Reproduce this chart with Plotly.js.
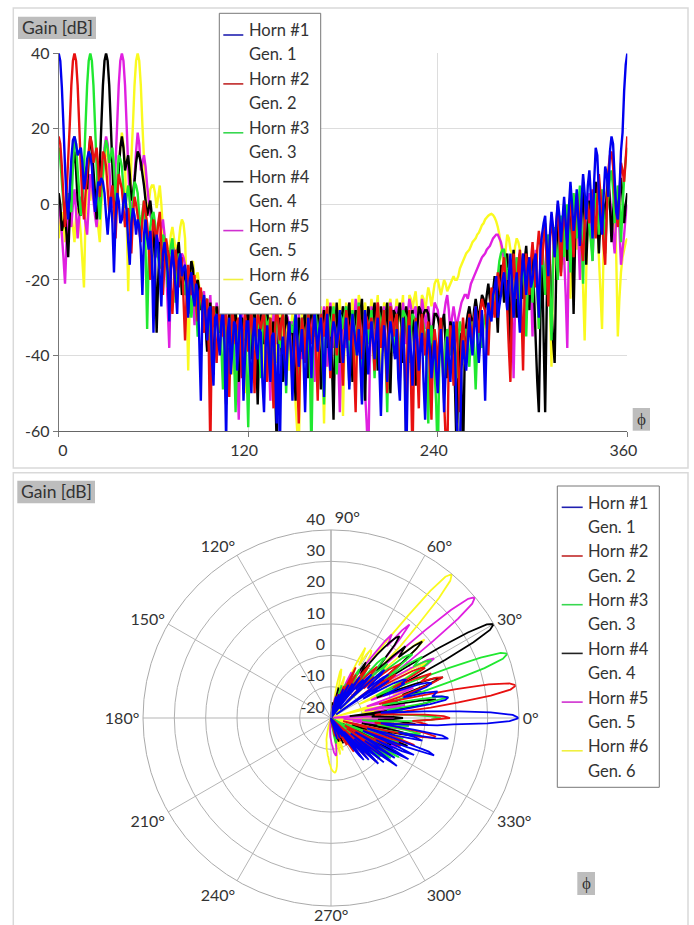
<!DOCTYPE html>
<html>
<head>
<meta charset="utf-8">
<script src="https://cdn.plot.ly/plotly-3.0.1.min.js"></script>
<style>html,body{margin:0;padding:0;background:#fff;overflow:hidden}#chart{width:694px;height:925px}</style>
</head>
<body>
<div id="chart"></div>
<script>
const phiDeg = [
0,1,2,3,4,5,6,7,8,9,10,11,12,13,14,15,16,17,18,19,
20,21,22,23,24,25,26,27,28,29,30,31,32,33,34,35,36,37,38,39,
40,41,42,43,44,45,46,47,48,49,50,51,52,53,54,55,56,57,58,59,
60,61,62,63,64,65,66,67,68,69,70,71,72,73,74,75,76,77,78,79,
80,81,82,83,84,85,86,87,88,89,90,91,92,93,94,95,96,97,98,99,
100,101,102,103,104,105,106,107,108,109,110,111,112,113,114,115,116,117,118,119,
120,121,122,123,124,125,126,127,128,129,130,131,132,133,134,135,136,137,138,139,
140,141,142,143,144,145,146,147,148,149,150,151,152,153,154,155,156,157,158,159,
160,161,162,163,164,165,166,167,168,169,170,171,172,173,174,175,176,177,178,179,
180,181,182,183,184,185,186,187,188,189,190,191,192,193,194,195,196,197,198,199,
200,201,202,203,204,205,206,207,208,209,210,211,212,213,214,215,216,217,218,219,
220,221,222,223,224,225,226,227,228,229,230,231,232,233,234,235,236,237,238,239,
240,241,242,243,244,245,246,247,248,249,250,251,252,253,254,255,256,257,258,259,
260,261,262,263,264,265,266,267,268,269,270,271,272,273,274,275,276,277,278,279,
280,281,282,283,284,285,286,287,288,289,290,291,292,293,294,295,296,297,298,299,
300,301,302,303,304,305,306,307,308,309,310,311,312,313,314,315,316,317,318,319,
320,321,322,323,324,325,326,327,328,329,330,331,332,333,334,335,336,337,338,339,
340,341,342,343,344,345,346,347,348,349,350,351,352,353,354,355,356,357,358,359,
360];

const gain1 = [
40,38,31,21,10,1,-4,4,12,17,18,16,13,14,15,11,4,7,12,14,
13,10,3,-2,2,6,5,7,6,3,-3,-8,-2,2,-5,-18,-4,3,1,-5,
-4,1,3,-2,-10,-16,-5,-1,-3,-8,-4,-6,-12,-24,-8,-4,-9,-12,-7,-14,
-34,-15,-8,-11,-19,-27,-13,-10,-14,-18,-31,-17,-12,-16,-22,-29,-15,-13,-19,-17,
-16,-22,-30,-20,-18,-24,-27,-21,-23,-36,-52,-27,-24,-30,-36,-28,-27,-41,-48,-30,
-29,-36,-40,-31,-28,-37,-63,-34,-30,-45,-38,-31,-32,-44,-36,-29,-33,-52,-40,-31,
-31,-42,-50,-35,-30,-38,-41,-33,-34,-47,-55,-38,-32,-40,-47,-35,-34,-43,-58,-37,
-66,-40,-35,-42,-48,-36,-31,-39,-52,-37,-29,-35,-43,-38,-33,-41,-55,-39,-30,-36,
-46,-35,-28,-34,-39,-33,-30,-37,-51,-36,-29,-38,-44,-35,-31,-33,-38,-34,-28,-36,
-42,-36,-30,-39,-49,-37,-29,-33,-37,-40,-33,-42,-53,-38,-28,-35,-45,-37,-31,-36,
-41,-35,-30,-43,-56,-40,-32,-38,-47,-36,-31,-34,-38,-41,-33,-46,-52,-37,-30,-44,
-70,-45,-32,-39,-48,-37,-31,-36,-44,-38,-34,-47,-57,-40,-33,-38,-46,-41,-36,-44,
-50,-40,-33,-42,-55,-44,-35,-41,-47,-37,-31,-40,-58,-64,-66,-44,-36,-41,-44,-37,
-30,-36,-40,-33,-27,-35,-42,-36,-28,-38,-52,-34,-26,-29,-31,-24,-22,-19,-30,-27,
-24,-20,-18,-23,-28,-19,-13,-21,-30,-22,-18,-27,-34,-20,-13,-18,-24,-17,-14,-22,
-20,-15,-13,-22,-30,-12,-8,-5,-3,-11,-19,-8,-2,-6,-14,-5,1,-3,-10,-4,
2,-5,-12,-1,6,0,-7,-3,4,-4,-11,1,8,3,-4,5,9,2,-9,6,
15,13,3,-4,-8,2,10,8,2,14,18,16,7,-2,-4,3,14,19,30,37,
40];
const gain2 = [
18,16,10,2,-6,3,12,21,31.5,38,40,38,31.5,21,10,1,-4,3,8,14,
18,16,11,13,15,10,2,8,14,13,10,4,-2,2,5,0,-9,1,8,6,
4,-1,-6,-2,-1,-6,-13,-3,2,0,-3,-7,-10,-4,1,-2,-5,-11,-20,-9,
-4,-7,-10,-5,-2,-11,-24,-16,-9,-12,-14,-22,-29,-20,-12,-16,-22,-17,-14,-25,
-36,-24,-16,-20,-24,-19,-19,-26,-31,-24,-22,-28,-34,-26,-25,-38,-65,-33,-27,-35,
-42,-32,-27,-31,-35,-30,-29,-41,-51,-34,-28,-33,-37,-31,-30,-38,-46,-34,-29,-33,
-39,-32,-28,-36,-50,-35,-29,-31,-33,-30,-28,-38,-47,-35,-30,-42,-54,-33,-27,-31,
-36,-31,-29,-37,-44,-34,-31,-39,-48,-36,-32,-45,-58,-38,-30,-34,-42,-33,-29,-32,
-37,-31,-28,-40,-52,-35,-29,-31,-35,-30,-27,-36,-46,-34,-29,-33,-40,-35,-30,-39,
-48,-33,-28,-31,-36,-32,-30,-43,-55,-34,-27,-33,-41,-33,-29,-30,-33,-32,-30,-37,
-44,-31,-26,-32,-38,-31,-28,-39,-50,-33,-27,-30,-35,-31,-29,-38,-46,-34,-30,-42,
-55,-33,-28,-46,-67,-40,-30,-42,-54,-34,-29,-35,-40,-34,-31,-45,-57,-38,-33,-37,
-44,-34,-30,-41,-52,-62,-68,-40,-32,-39,-48,-35,-31,-43,-55,-37,-30,-36,-42,-33,
-29,-33,-36,-30,-27,-31,-34,-28,-25,-27,-28,-33,-40,-29,-22,-26,-30,-23,-18,-21,
-24,-17,-14,-21,-28,-38,-47,-24,-13,-19,-25,-16,-12,-28,-44,-22,-13,-18,-24,-15,
-10,-16,-22,-12,-7,-11,-16,-9,-5,-16,-27,-10,-3,-8,-14,-5,0,-9,-19,-7,
-2,-6,-10,-3,1,-6,-14,-4,3,-1,-7,-11,-15,-5,2,-1,-5,0,4,-3,
-9,1,8,3,-3,-11,-16,-2,9,13,14,10,3,-2,-6,2,11,9,6,12,
18];
const gain3 = [
15,12,6,0,-4,0,3,-1,-2,10,18,16,9,3,-3,1,10,21,31.5,38,
40,38,31.5,21,10,1,-4,3,8,14,17,15,11,13,15,10,1,6,13,12,
10,4,-1,2,5,1,-8,0,6,5,3,-3,-7,-2,1,-12,-33,-14,-6,-3,
-2,-5,-9,-14,-17,-12,-8,-9,-14,-22,-14,-11,-9,-15,-26,-18,-13,-15,-18,-21,
-24,-20,-17,-23,-30,-24,-20,-27,-35,-27,-23,-25,-29,-26,-25,-33,-44,-32,-27,-30,
-31,-30,-29,-38,-49,-36,-30,-33,-38,-32,-28,-40,-55,-38,-31,-35,-42,-34,-30,-44,
-59,-38,-29,-31,-36,-33,-31,-38,-46,-34,-28,-30,-33,-31,-30,-40,-52,-36,-29,-32,
-38,-31,-28,-37,-50,-38,-31,-32,-34,-31,-29,-36,-47,-35,-30,-34,-41,-33,-28,-42,
-66,-38,-27,-30,-36,-32,-29,-40,-53,-35,-28,-30,-35,-30,-27,-33,-45,-35,-29,-30,
-33,-29,-27,-36,-48,-33,-28,-32,-40,-31,-26,-37,-52,-36,-29,-32,-37,-32,-28,-36,
-46,-33,-27,-29,-34,-30,-28,-40,-55,-35,-27,-31,-39,-32,-29,-35,-43,-33,-28,-29,
-30,-36,-42,-33,-29,-30,-31,-38,-45,-35,-30,-32,-35,-44,-58,-39,-32,-37,-44,-53,
-68,-42,-31,-39,-50,-37,-33,-35,-40,-35,-32,-38,-46,-36,-31,-33,-37,-34,-33,-38,
-43,-35,-31,-38,-49,-37,-33,-34,-38,-32,-29,-32,-36,-28,-24,-25,-27,-22,-19,-15,
-13,-12,-12,-15,-20,-17,-15,-21,-30,-19,-14,-19,-27,-18,-16,-24,-35,-21,-15,-19,
-26,-18,-14,-22,-33,-17,-12,-17,-24,-13,-8,-25,-36,-15,-6,-11,-20,-8,-3,-7,
-14,-4,0,-7,-18,-5,3,-2,-9,0,5,-6,-21,-4,2,-1,-6,-10,-15,-3,
3,-2,-8,-1,4,-3,-13,-2,2,7,9,4,-5,0,5,2,-10,-1,7,12,
15];
const gain4 = [
3,0,-7,-5,-3,-8,-14,-3,6,11,14,9,1,-2,-3,3,10,8,4,12,
18,15,9,3,-4,1,10,21,31.5,38,40,38,31.5,21,10,1,-4,2,9,15,
18,15,9,11,13,8,1,3,6,11,14,13,11,8,5,1,-3,-1,1,-3,
-7,-16,-34,-20,-10,-11,-15,-13,-12,-19,-26,-17,-13,-15,-19,-13,-10,-16,-24,-20,
-17,-22,-29,-19,-15,-17,-24,-21,-20,-23,-28,-25,-25,-32,-39,-29,-26,-36,-45,-32,
-27,-30,-34,-30,-28,-41,-53,-36,-29,-32,-38,-31,-28,-37,-47,-35,-30,-32,-36,-30,
-28,-34,-41,-31,-27,-39,-53,-36,-29,-32,-37,-30,-28,-35,-44,-33,-31,-48,-63,-38,
-30,-38,-47,-33,-29,-32,-36,-33,-32,-43,-52,-37,-30,-34,-39,-32,-28,-36,-46,-32,
-27,-30,-35,-29,-26,-37,-49,-34,-28,-32,-38,-31,-27,-42,-57,-35,-26,-33,-42,-31,
-27,-30,-34,-29,-26,-36,-47,-33,-28,-33,-39,-29,-25,-38,-52,-34,-27,-30,-35,-29,
-26,-35,-44,-32,-27,-31,-37,-30,-26,-38,-50,-34,-28,-29,-33,-29,-26,-33,-42,-31,
-27,-31,-36,-31,-28,-38,-48,-33,-27,-28,-31,-29,-28,-28,-29,-35,-42,-33,-29,-29,
-30,-32,-35,-31,-29,-37,-46,-36,-31,-33,-37,-50,-67,-44,-34,-48,-67,-42,-32,-29,
-27,-30,-33,-28,-25,-28,-31,-27,-24,-25,-28,-24,-21,-25,-30,-23,-19,-26,-34,-22,
-16,-20,-26,-17,-13,-25,-38,-20,-12,-20,-30,-18,-13,-19,-25,-15,-11,-18,-28,-16,
-13,-24,-36,-47,-55,-30,-12,-35,-55,-26,-9,-16,-27,-36,-42,-18,-5,-11,-18,-7,
0,-7,-15,-4,3,-10,-29,-9,2,-3,-9,-3,4,-5,-16,-5,1,-2,-6,1,
6,-3,-13,-4,2,0,-4,3,8,0,-10,-2,3,1,-2,3,7,2,-5,0,
3];
const gain5 = [
0,-3,-8,-14,-21,-10,-3,-4,-6,0,4,-2,-9,-3,2,1,-2,-5,-8,0,
8,5,1,-3,-6,-1,3,7,9,15,18,16,10,3,-1,3,11,21,31.5,38,
40,38,31.5,21,10,1,-3,2,7,14,19,16,9,11,13,10,5,1,-3,-4,
-6,-10,-14,-11,-9,-6,-4,-8,-16,-27,-38,-20,-11,-12,-13,-16,-20,-15,-13,-14,
-16,-20,-24,-20,-18,-25,-32,-24,-21,-24,-27,-24,-23,-30,-38,-28,-24,-34,-45,-31,
-26,-30,-36,-31,-28,-38,-49,-34,-27,-29,-33,-30,-29,-43,-57,-36,-28,-34,-42,-33,
-29,-33,-38,-31,-27,-36,-46,-35,-30,-32,-35,-31,-28,-39,-52,-36,-29,-32,-37,-32,
-30,-36,-44,-33,-29,-30,-33,-32,-31,-40,-50,-35,-29,-34,-41,-33,-28,-31,-36,-31,
-27,-36,-47,-34,-28,-30,-34,-30,-27,-34,-43,-31,-26,-31,-38,-32,-28,-41,-55,-36,
-27,-32,-38,-31,-26,-34,-44,-32,-25,-28,-33,-29,-27,-38,-50,-58,-68,-42,-27,-33,
-41,-31,-26,-30,-35,-30,-27,-36,-47,-33,-26,-28,-31,-28,-27,-34,-43,-32,-26,-30,
-37,-29,-25,-27,-30,-28,-27,-35,-45,-32,-25,-28,-33,-29,-27,-32,-39,-30,-26,-27,
-28,-32,-37,-32,-29,-26,-24,-28,-34,-30,-27,-30,-33,-30,-28,-26,-25,-24,-24,-25,
-23,-21,-20,-19,-18,-17,-16,-15,-14,-13.5,-13,-12,-11.5,-11,-10,-9,-8.5,-8,-8,-9,
-10,-12,-15,-20,-24,-20,-17,-28,-46,-26,-14,-19,-26,-17,-13,-20,-30,-19,-14,-22,
-35,-20,-12,-19,-28,-15,-10,-16,-24,-13,-8,-18,-33,-14,-6,-11,-19,-8,-4,-8,
-14,-24,-38,-12,-2,-6,-12,-3,1,-8,-20,-7,-2,-4,-8,-2,3,-4,-15,-3,
4,-2,-9,-3,1,-4,-12,-2,5,2,-3,-8,-13,-3,2,-6,-16,-12,-8,-3,
0];
const gain6 = [
-9,-4,-2,-5,-10,-7,-6,-3,-3,-6,-10,-3,-1,-3,-8,-15,-22,-3,5,6,
1,5,8,3,-3,-6,-10,0,6,12,15,12,7,2,-4,0,3,6,10,15,
19,16,10,-3,-23,-4,12,21,31.5,38,40,38,31.5,21,12,2,-3,0,4,5,
5,3,-1,2,5,0,-7,-12,-14,-13,-12,-8,-6,-9,-12,-11,-10,-6,-4,-5,
-9,-24,-44,-25,-16,-15,-20,-19,-18,-22,-26,-25,-24,-29,-35,-30,-26,-28,-30,-28,
-27,-32,-38,-31,-26,-29,-33,-31,-29,-36,-45,-34,-28,-31,-36,-32,-29,-38,-50,-34,
-27,-33,-40,-32,-28,-31,-35,-30,-26,-35,-47,-34,-28,-30,-33,-29,-27,-34,-42,-33,
-29,-33,-37,-32,-30,-36,-44,-33,-29,-40,-53,-60,-66,-40,-28,-34,-41,-31,-27,-30,
-35,-30,-26,-36,-48,-33,-27,-42,-58,-38,-25,-28,-33,-29,-26,-31,-38,-30,-25,-38,
-56,-36,-26,-29,-34,-29,-25,-33,-43,-32,-24,-26,-30,-28,-26,-31,-38,-30,-25,-28,
-33,-28,-24,-34,-47,-33,-26,-27,-29,-27,-25,-30,-38,-29,-25,-27,-31,-28,-24,-44,
-66,-38,-24,-25,-28,-25,-23,-28,-35,-28,-24,-25,-29,-25,-22,-24,-27,-24,-21,-20,
-20,-22,-24,-22,-20,-21,-23,-22,-21,-20,-19,-20,-20,-19,-17,-16,-15,-14,-13,-12.5,
-12,-11,-10,-9.5,-9,-8,-7.5,-6.5,-5.5,-5,-4,-3.5,-3,-2.7,-2.5,-2.8,-3.5,-4.5,-6,-8,
-11,-14,-17,-12,-8,-9,-12,-13,-15,-11,-9,-10,-12,-14,-18,-24,-30,-22,-15,-20,
-26,-19,-14,-23,-33,-20,-11,-17,-24,-14,-9,-25,-43,-18,-7,-12,-19,-9,-5,-9,
-16,-8,-4,-13,-25,-9,-2,-6,-12,-4,0,-10,-22,-36,-18,-3,1,-2,-9,-2,
4,-4,-14,-23,-33,-12,-2,3,6,0,-7,-2,0,-14,-35,-25,-18,-14,-12,-10,
-9];

const hornNames = ['Horn #1','Horn #2','Horn #3','Horn #4','Horn #5','Horn #6'];
const genNames = ['Gen. 1','Gen. 2','Gen. 3','Gen. 4','Gen. 5','Gen. 6'];
const traceColors = ['#0000f0','#e81010','#20e830','#000000','#e020e0','#fafa20'];
const legendColors = ['#2020b0','#c02828','#38d850','#222222','#d030d0','#f0f040'];
const xTicks = [0,120,240,360];
const xTickText = ['&nbsp;&nbsp;&nbsp;&nbsp;0','120','240','360'];
const yTicks = [-60,-40,-20,0,20,40];
const yTickText = ['-60','-40','-20','0','20','40'];
const radialTicks = [-20,-10,0,10,20,30,40];
const angleTicks = [0,30,60,90,120,150,180,210,240,270,300,330];
const seriesValues = [gain1,gain2,gain3,gain4,gain5,gain6];

const W = 694, H = 925;
const px = x => x / W;
const py = y => 1 - y / H;
const FONT = 'Lato, "Open Sans", sans-serif';
const TXT = '#333333';

const traces = [];
for (let i = 5; i >= 0; i--) {
  traces.push({type:'scatter',mode:'lines',name:hornNames[i],x:phiDeg,y:seriesValues[i],
    line:{color:traceColors[i],width:2.4,simplify:false},showlegend:false,hoverinfo:'skip'});
}
for (let i = 5; i >= 0; i--) {
  traces.push({type:'scatterpolar',mode:'lines',name:hornNames[i],theta:phiDeg,
    r:seriesValues[i].map(v => Math.max(v, radialTicks[0])),subplot:'polar',
    line:{color:traceColors[i],width:1.8,simplify:false},showlegend:false,hoverinfo:'skip'});
}

const shapes = [], annotations = [];
function rect(x0,y0,x1,y1,fill,lineColor,lw,layer){
  shapes.push({type:'rect',xref:'paper',yref:'paper',x0:px(x0),x1:px(x1),y0:py(y0),y1:py(y1),
    fillcolor:fill,line:{color:lineColor,width:lw},layer:layer||'above'});
}
function label(x,y,text,anchor,size,family){
  annotations.push({xref:'paper',yref:'paper',x:px(x),y:py(y),text:text,showarrow:false,
    xanchor:anchor,yanchor:'middle',borderpad:0,font:{family:family||FONT,size:size||16,color:TXT}});
}
function legendBox(x0,y0,x1,y1,lineX0,lineX1,textX,firstY,lineDy,step){
  rect(x0,y0,x1,y1,'#ffffff','#777777',1);
  for (let i = 0; i < 6; i++) {
    const y = firstY + i*2*step;
    shapes.push({type:'line',xref:'paper',yref:'paper',x0:px(lineX0),x1:px(lineX1),
      y0:py(y+lineDy),y1:py(y+lineDy),line:{color:legendColors[i],width:1.6},layer:'above'});
    label(textX,y,hornNames[i],'left',16.5);
    label(textX,y+step,genNames[i],'left',16.5);
  }
}
rect(13.3,8,688,468,'rgba(0,0,0,0)','#d9d9d9',1.5,'below');
rect(13.3,472.7,688,930,'rgba(0,0,0,0)','#d9d9d9',1.5,'below');
rect(18,16.7,96,39,'#bdbdbd','#bdbdbd',0);
label(57,27.5,'Gain [dB]','center',17.5);
rect(17.3,480.7,95,503.3,'#bdbdbd','#bdbdbd',0);
label(56,491.5,'Gain [dB]','center',17.5);
rect(632.7,408,650,430.7,'#bdbdbd','#bdbdbd',0);
label(641.3,419,'ϕ','center',17,'"Liberation Serif", serif');
rect(577.3,872,595,895,'#bdbdbd','#bdbdbd',0);
label(586,883,'ϕ','center',17,'"Liberation Serif", serif');
legendBox(219.3,13.3,320.7,314,223.3,243.3,248.3,30,5,24.45);
legendBox(557.3,486,659.3,787.3,561.7,582.7,586.7,502.7,4.6,24.35);
label(331,914.5,'270°','center',16);

const layout = {
  width:W,height:H,autosize:false,margin:{l:0,r:0,t:0,b:0,pad:0},
  paper_bgcolor:'#ffffff',plot_bgcolor:'#ffffff',showlegend:false,
  font:{family:FONT,size:16,color:TXT},
  xaxis:{domain:[px(58.7),px(627.3)],range:[0,360],tickmode:'array',tickvals:xTicks,ticktext:xTickText,
    ticks:'outside',ticklen:5,tickcolor:'#777777',showline:true,linecolor:'#666666',linewidth:1,
    showgrid:true,gridcolor:'#dddddd',gridwidth:1,zeroline:false,ticklabelshift:-4,
    tickfont:{family:FONT,size:16,color:TXT},automargin:false},
  yaxis:{domain:[py(431),py(53.3)],range:[-60,40],tickmode:'array',tickvals:yTicks,ticktext:yTickText,
    ticks:'outside',ticklen:5,tickcolor:'#777777',showline:true,linecolor:'#777777',linewidth:1,
    showgrid:true,gridcolor:'#dddddd',gridwidth:1,zeroline:false,
    tickfont:{family:FONT,size:16,color:TXT},automargin:false},
  polar:{
    domain:{x:[px(143),px(519)],y:[py(906),py(530)]},
    bgcolor:'rgba(0,0,0,0)',
    angularaxis:{direction:'counterclockwise',rotation:0,tickmode:'array',tickvals:angleTicks,
      ticktext:angleTicks.map(a => a===270 ? '' : (a===90?'&nbsp;&nbsp;&nbsp;&nbsp;&nbsp;&nbsp;&nbsp;&nbsp;':'')+a+'°'),
      ticks:'',showline:true,linecolor:'#aaaaaa',linewidth:1,gridcolor:'#b5b5b5',gridwidth:1,
      tickfont:{family:FONT,size:16,color:TXT}},
    radialaxis:{range:[-20,40],angle:90,side:'counterclockwise',tickangle:90,tickmode:'array',tickvals:radialTicks,
      ticktext:radialTicks.map(v => v+'<br>&nbsp;'),
      ticks:'',showline:true,linecolor:'#aaaaaa',gridcolor:'#b0b0b0',gridwidth:1,
      tickfont:{family:FONT,size:16,color:TXT}}
  },
  shapes:shapes,annotations:annotations
};
Plotly.newPlot('chart',traces,layout,{staticPlot:true,displayModeBar:false});
</script>
</body>
</html>
